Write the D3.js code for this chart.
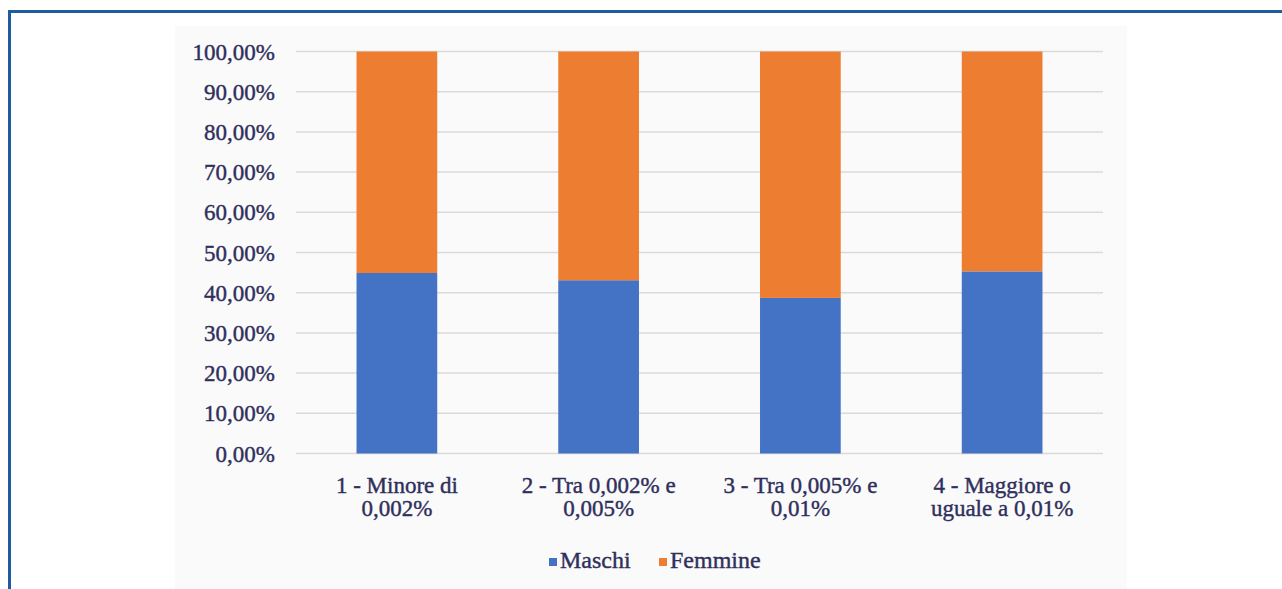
<!DOCTYPE html>
<html>
<head>
<meta charset="utf-8">
<script src="https://cdn.jsdelivr.net/npm/d3@7"></script>
<style>
  body { margin: 0; background: #fff; }
</style>
</head>
<body>
<svg id="chart" width="1282" height="589"></svg>
<script>
const categories = ["1 - Minore di 0,002%", "2 - Tra 0,002% e 0,005%", "3 - Tra 0,005% e 0,01%", "4 - Maggiore o uguale a 0,01%"];
const categoryLines = [["1 - Minore di", "0,002%"], ["2 - Tra 0,002% e", "0,005%"], ["3 - Tra 0,005% e", "0,01%"], ["4 - Maggiore o", "uguale a 0,01%"]];
const maschi = [0.449, 0.431, 0.387, 0.453];
const femmine = [0.551, 0.569, 0.613, 0.547];
const seriesNames = ["Maschi", "Femmine"];
const seriesColors = ["#4472c4", "#ed7d31"];
const yTicks = [0, 0.1, 0.2, 0.3, 0.4, 0.5, 0.6, 0.7, 0.8, 0.9, 1];

const font = "'Liberation Serif', 'Times New Roman', Times, serif";
const textColor = "#2f2f5c";

const svg = d3.select("#chart");

// outer blue frame (only top and left edges are visible)
svg.append("line").attr("x1", 8).attr("x2", 1282).attr("y1", 11.5).attr("y2", 11.5)
  .attr("stroke", "#1d5c9e").attr("stroke-width", 3);
svg.append("line").attr("x1", 9.5).attr("x2", 9.5).attr("y1", 10).attr("y2", 589)
  .attr("stroke", "#1d5c9e").attr("stroke-width", 3);

// chart area background
svg.append("rect").attr("x", 175).attr("y", 26).attr("width", 952).attr("height", 563)
  .attr("fill", "#fafafa");

const it = d3.formatLocale({decimal: ",", thousands: ".", grouping: [3], currency: ["€", ""]});
const fmt = it.format(".2%");

const x = d3.scaleBand().domain(categories).range([296, 1103]).paddingInner(0.6).paddingOuter(0.3);
const y = d3.scaleLinear().domain([0, 1]).range([453.5, 51.5]);

// gridlines
svg.append("g").selectAll("line").data(yTicks).join("line")
  .attr("x1", 296).attr("x2", 1103)
  .attr("y1", d => y(d)).attr("y2", d => y(d))
  .attr("stroke", "#dcd9d9").attr("stroke-width", 1.5);

// y labels
svg.append("g").selectAll("text").data(yTicks).join("text")
  .attr("x", 275).attr("y", d => y(d)).attr("dy", "0.35em")
  .attr("text-anchor", "end")
  .attr("font-family", font).attr("font-size", 23)
  .attr("fill", textColor).attr("stroke", textColor).attr("stroke-width", 0.4)
  .text(d => fmt(d));

const table = categories.map((c, i) => ({cat: c, Maschi: maschi[i], Femmine: femmine[i]}));
const stack = d3.stack().keys(seriesNames)(table);

svg.append("g").selectAll("g").data(stack).join("g")
  .attr("fill", (d, i) => seriesColors[i])
  .selectAll("rect").data(d => d).join("rect")
  .attr("x", d => x(d.data.cat))
  .attr("width", x.bandwidth())
  .attr("y", d => y(d[1]))
  .attr("height", d => y(d[0]) - y(d[1]));

// x labels
const xl = svg.append("g").selectAll("text").data(categories).join("text")
  .attr("text-anchor", "middle")
  .attr("font-family", font).attr("font-size", 23)
  .attr("fill", textColor).attr("stroke", textColor).attr("stroke-width", 0.4)
  .attr("transform", d => `translate(${x(d) + x.bandwidth() / 2},493)`);
xl.selectAll("tspan").data((d, i) => categoryLines[i]).join("tspan")
  .attr("x", 0).attr("y", (d, j) => j * 23)
  .text(d => d);

// legend
const legend = svg.append("g").selectAll("g").data(seriesNames).join("g")
  .attr("transform", (d, i) => `translate(${i === 0 ? 549 : 659},558)`);
legend.append("rect").attr("width", 8).attr("height", 8)
  .attr("fill", (d, i) => seriesColors[i]);
legend.append("text").attr("x", 11).attr("y", 10)
  .attr("font-family", font).attr("font-size", 24)
  .attr("fill", textColor).attr("stroke", textColor).attr("stroke-width", 0.4)
  .text(d => d);
</script>
</body>
</html>
